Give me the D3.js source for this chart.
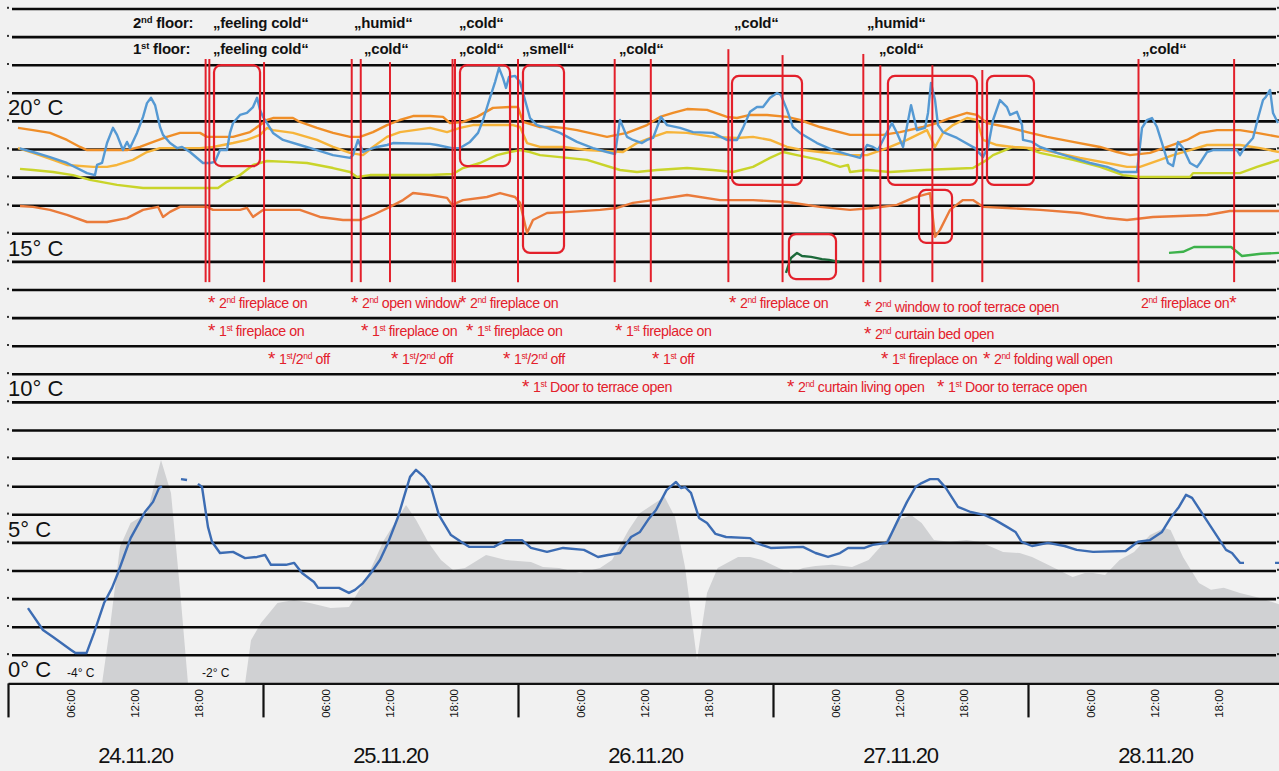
<!DOCTYPE html>
<html><head><meta charset="utf-8">
<script src="https://cdn.jsdelivr.net/npm/d3@7"></script>
<style>
html,body{margin:0;padding:0;background:#f1f1f1;}
svg{display:block;font-family:"Liberation Sans",Arial,sans-serif;}
.ylab{font-size:22px;fill:#111;}
.top{font-size:15px;font-weight:bold;fill:#111;letter-spacing:-0.2px;}
.red{font-size:14.2px;fill:#e3202b;letter-spacing:-0.4px;}
.date{font-size:22px;fill:#111;letter-spacing:-1.2px;}
.hour{font-size:11.5px;fill:#111;}
.small{font-size:12px;fill:#111;}
</style>
</head><body>
<svg id="chart" width="1279" height="771"></svg>
<script>
// ---------------- DATA ----------------
// time in hours since 24.11.20 00:00, temperature in °C (chart scale)
const dayLabels = ["24.11.20","25.11.20","26.11.20","27.11.20","28.11.20"];
const hourTicks = [6,12,18];
const tempLabels = [0,5,10,15,20];

const indoorBlue = [[1.1,19.04],[2.35,18.91],[3.95,18.73],[5.55,18.52],[7.44,18.16],[8.19,18.09],[8.38,18.45],[8.85,18.52],[9.32,19.23],[9.88,19.77],[10.26,19.52],[10.82,18.98],[11.2,19.27],[11.48,19.05],[12.14,19.59],[12.42,19.87],[12.71,20.16],[13.08,20.65],[13.46,20.84],[13.84,20.58],[14.31,19.8],[14.59,19.52],[15.25,19.23],[15.91,19.05],[16.38,19.09],[17.13,18.91],[18.35,18.52],[19.01,18.52],[19.48,18.56],[19.95,18.98],[20.61,18.98],[20.89,19.59],[21.18,19.94],[21.84,20.23],[22.49,20.3],[23.06,20.51],[23.44,20.84],[23.72,20.41],[24.0,20.16],[24.38,19.94],[24.94,19.59],[25.88,19.34],[27.48,19.16],[29.08,18.98],[30.59,18.8],[32.19,18.7],[32.47,18.8],[32.94,19.34],[33.41,18.91],[33.79,18.98],[34.73,19.09],[35.67,19.16],[36.24,19.23],[39.72,19.2],[40.38,19.16],[41.79,19.05],[42.54,19.05],[43.48,19.27],[44.24,19.59],[44.71,20.05],[45.36,20.84],[45.84,21.4],[46.21,21.9],[46.59,21.54],[46.87,21.19],[47.15,21.58],[47.72,21.62],[48.19,21.4],[48.66,20.76],[49.13,20.12],[49.79,19.87],[50.73,19.77],[51.95,19.59],[53.55,19.27],[55.06,19.05],[56.38,18.91],[57.13,18.84],[57.6,20.05],[58.26,19.45],[58.82,19.34],[59.67,19.23],[60.14,19.34],[60.71,19.41],[61.46,20.16],[62.02,19.87],[63.25,19.77],[64.47,19.62],[66.35,19.59],[67.67,19.34],[68.61,19.34],[69.18,19.77],[69.84,20.34],[70.49,20.51],[71.06,20.51],[71.72,20.84],[72.38,21.01],[72.75,20.94],[73.32,20.41],[73.88,19.8],[74.54,19.59],[76.14,19.23],[77.65,18.98],[79.25,18.8],[80.19,18.7],[80.85,19.16],[81.41,19.09],[81.88,18.98],[82.73,19.62],[83.2,19.94],[83.67,19.59],[84.24,19.09],[84.99,20.58],[85.55,19.69],[86.31,19.77],[86.59,20.3],[86.87,21.37],[87.25,20.76],[87.53,19.87],[88.0,19.62],[89.32,19.41],[91.01,19.05],[91.76,18.73],[92.24,19.09],[92.71,20.05],[93.36,20.76],[94.02,20.51],[94.31,20.23],[94.96,20.34],[95.44,19.87],[95.53,19.34],[96.38,19.27],[97.13,19.09],[98.73,18.88],[100.24,18.7],[101.84,18.52],[103.44,18.38],[104.66,18.2],[106.26,18.2],[106.73,19.77],[107.2,20.05],[107.67,20.12],[108.14,19.8],[108.61,19.23],[109.18,18.52],[109.65,18.41],[110.12,19.27],[110.59,19.05],[111.25,18.52],[111.91,18.38],[112.19,18.52],[112.85,18.91],[113.41,18.98],[114.35,18.98],[115.67,18.98],[115.95,18.8],[116.42,19.09],[117.18,19.41],[117.65,20.12],[118.12,20.76],[118.4,20.88],[118.78,21.12],[119.06,20.3],[119.53,19.94]];

const orangeHigh = [[0.94,19.77],[2.35,19.69],[3.95,19.59],[5.55,19.34],[6.78,19.09],[7.44,18.98],[11.2,18.98],[12.42,19.09],[13.36,19.23],[14.96,19.45],[16.19,19.59],[18.07,19.59],[18.73,19.45],[21.18,19.45],[22.78,19.62],[23.72,19.87],[24.38,20.05],[24.94,20.12],[26.82,20.12],[27.48,19.98],[29.08,19.77],[30.59,19.59],[32.19,19.45],[33.13,19.45],[34.35,19.62],[35.67,19.87],[36.89,20.05],[38.12,20.19],[39.72,20.19],[40.94,20.16],[41.6,19.94],[42.82,19.98],[44.14,20.16],[45.65,20.48],[47.25,20.51],[48.0,20.51],[48.47,19.98],[50.07,19.8],[51.3,19.8],[52.24,19.77],[53.55,19.69],[56.38,19.45],[58.26,19.59],[60.14,19.87],[61.36,20.16],[62.59,20.3],[63.91,20.44],[65.79,20.41],[67.67,20.16],[68.61,20.12],[69.84,20.23],[71.44,20.23],[73.32,20.16],[74.54,20.05],[76.42,19.8],[79.25,19.52],[81.41,19.52],[82.35,19.52],[83.95,19.62],[86.12,19.8],[87.44,19.94],[88.66,20.12],[90.26,20.3],[91.2,20.23],[92.14,19.94],[94.02,19.8],[95.91,19.62],[97.79,19.45],[100.24,19.27],[102.78,19.09],[104.38,18.91],[105.6,18.8],[107.48,18.88],[109.08,19.09],[110.96,19.34],[112.19,19.59],[113.79,19.69],[115.95,19.69],[117.55,19.59],[119.62,19.45]];

const orangeLight = [[0.94,19.05],[2.35,18.88],[4.24,18.63],[5.55,18.45],[8.0,18.38],[9.32,18.38],[10.26,18.45],[11.76,18.63],[13.08,18.91],[14.31,19.05],[15.53,19.05],[18.07,19.05],[19.29,19.09],[21.18,19.23],[22.49,19.34],[23.72,19.52],[24.38,19.77],[24.94,19.69],[26.82,19.59],[29.08,19.34],[30.59,19.09],[32.19,18.88],[33.41,18.8],[34.35,19.09],[35.67,19.45],[36.89,19.62],[39.72,19.77],[41.32,19.62],[42.54,19.77],[43.76,19.87],[47.53,19.87],[48.19,19.8],[48.85,19.23],[50.07,19.09],[52.24,19.09],[54.49,18.98],[57.88,18.91],[59.2,19.23],[60.71,19.45],[62.02,19.62],[63.91,19.59],[66.35,19.45],[68.61,19.41],[70.12,19.45],[71.72,19.34],[73.32,19.09],[74.82,18.98],[76.42,18.91],[79.25,18.8],[80.85,18.8],[82.73,19.05],[84.61,19.34],[86.49,19.69],[87.25,19.09],[88.0,19.59],[88.94,19.87],[90.26,20.12],[91.2,20.05],[91.76,19.34],[93.08,19.16],[94.59,19.09],[96.47,19.05],[98.73,18.88],[100.89,18.7],[103.44,18.52],[105.32,18.38],[106.54,18.38],[108.42,18.63],[109.65,18.8],[111.25,18.98],[112.85,19.16],[115.95,19.16],[117.84,19.05],[119.62,18.91]];

const yellowGreen = [[1.13,18.31],[2.35,18.27],[4.24,18.2],[6.12,18.09],[7.72,17.92],[10.26,17.74],[12.71,17.63],[18.07,17.63],[19.76,17.63],[20.61,17.85],[21.84,18.09],[23.06,18.45],[24.38,18.59],[26.26,18.56],[28.14,18.52],[30.59,18.34],[32.19,18.2],[32.85,18.02],[34.07,18.09],[39.72,18.09],[41.88,18.13],[42.82,18.34],[44.42,18.52],[46.02,18.8],[47.25,18.91],[48.19,18.98],[49.13,18.91],[50.07,18.8],[51.95,18.73],[54.49,18.63],[57.6,18.27],[59.2,18.2],[61.08,18.27],[63.91,18.34],[66.35,18.27],[68.24,18.2],[70.12,18.38],[71.72,18.7],[72.94,18.91],[74.26,18.8],[76.42,18.63],[78.31,18.38],[79.06,18.45],[79.25,18.2],[80.85,18.27],[83.01,18.2],[86.12,18.27],[90.82,18.34],[92.14,18.63],[92.71,18.8],[94.59,19.09],[95.91,19.05],[97.13,18.88],[100.24,18.63],[102.78,18.38],[104.94,18.09],[106.54,18.02],[111.25,18.02],[111.53,18.16],[115.95,18.16],[117.55,18.38],[119.62,18.63]];

const orangeLow = [[1.13,16.99],[2.35,16.96],[3.95,16.85],[5.55,16.67],[7.44,16.42],[9.32,16.42],[11.2,16.56],[12.71,16.85],[14.12,16.96],[14.59,16.6],[15.25,16.78],[16.19,16.96],[18.73,16.96],[19.29,16.85],[21.84,16.85],[22.49,16.92],[23.06,16.6],[24.0,16.85],[27.48,16.85],[29.36,16.6],[31.53,16.49],[33.13,16.49],[34.35,16.67],[35.95,16.96],[37.18,17.2],[38.12,17.45],[39.72,17.38],[41.32,17.28],[41.79,17.03],[42.82,17.2],[45.08,17.31],[46.31,17.45],[47.72,17.31],[48.19,17.1],[48.85,16.03],[49.41,16.49],[50.73,16.74],[52.89,16.78],[55.72,16.85],[57.32,16.92],[58.82,17.1],[60.71,17.2],[63.91,17.38],[67.01,17.2],[70.12,17.2],[73.32,17.13],[76.42,16.96],[79.25,16.85],[81.41,16.92],[83.67,17.03],[85.18,17.28],[86.78,17.45],[87.25,15.89],[87.72,16.14],[88.66,16.85],[89.88,17.2],[90.82,17.2],[91.76,16.96],[94.02,16.92],[97.13,16.85],[100.89,16.74],[103.44,16.56],[105.32,16.49],[107.76,16.6],[112.85,16.67],[115.01,16.81],[119.62,16.81]];

const darkGreen = [[73.22,14.61],[73.69,15.14],[74.26,15.32],[74.73,15.21],[75.58,15.18],[76.61,15.1],[77.27,15.07],[78.26,15.0]];
const green = [[109.27,15.32],[110.59,15.36],[111.62,15.53],[115.11,15.53],[116.14,15.21],[117.93,15.29],[119.62,15.32]];

// outdoor (lower panel), null = gap in record
const outdoor = [[1.88,2.68],[3.29,1.9],[4.24,1.65],[5.93,1.19],[6.35,1.08],[7.39,1.08],[8.09,1.79],[9.04,2.86],[9.79,3.4],[10.35,3.93],[10.96,4.57],[11.54,5.17],[12.33,5.71],[12.89,6.1],[13.65,6.46],[14.21,6.95],[14.49,7.02],null,[16.28,7.27],[16.85,7.24],null,[17.88,7.1],[18.26,6.99],[18.82,5.57],[19.2,5.04],[19.95,4.64],[21.18,4.68],[22.31,4.46],[23.44,4.5],[24.19,4.57],[24.75,4.22],[26.16,4.22],[26.92,4.29],[27.67,3.93],[28.8,3.61],[29.18,3.4],[31.15,3.4],[32.09,3.22],[32.66,3.33],[33.41,3.57],[34.16,3.93],[35.01,4.39],[35.76,5.0],[36.71,5.92],[37.27,6.64],[37.84,7.35],[38.4,7.6],[39.15,7.35],[39.81,6.99],[40.56,5.99],[41.69,5.28],[42.64,5.04],[43.39,4.86],[45.74,4.86],[46.87,5.1],[48.38,5.1],[49.22,4.82],[50.73,4.68],[52.24,4.82],[54.21,4.75],[55.53,4.5],[56.47,4.57],[57.6,4.64],[58.64,5.21],[59.48,5.39],[60.24,5.82],[60.99,6.17],[61.98,6.88],[62.87,7.17],[63.34,6.95],[63.72,6.99],[64.28,6.78],[65.04,5.89],[65.79,5.71],[66.59,5.32],[67.58,5.21],[69.84,5.17],[70.4,5.0],[71.78,4.82],[74.82,4.86],[76.0,4.64],[77.18,4.5],[78.31,4.64],[79.06,4.82],[80.61,4.82],[81.38,4.93],[82.73,5.0],[83.67,5.74],[84.61,6.46],[85.41,6.99],[85.99,7.13],[86.78,7.27],[87.53,7.27],[88.28,6.95],[89.41,6.28],[90.6,6.1],[91.95,5.99],[92.89,5.82],[94.02,5.57],[94.82,5.39],[95.4,5.04],[96.38,4.89],[97.88,5.0],[99.44,4.89],[100.58,4.75],[102.12,4.68],[105.19,4.71],[106.35,5.04],[107.48,5.1],[108.61,5.39],[109.42,5.89],[110.21,6.28],[110.87,6.71],[111.44,6.6],[113.22,5.57],[114.64,4.75],[115.2,4.64],[115.95,4.29],[116.33,4.29],null,[119.25,4.29],[119.72,4.29]];

const outdoorArea = [[8.85,0],[9.6,2.01],[10.54,4.86],[11.54,5.71],[13.08,6.06],[14.4,7.95],[15.34,6.78],[16.19,3.33],[16.94,0],[22.31,0],[22.87,1.54],[23.81,2.15],[25.36,2.86],[26.92,2.97],[28.42,2.86],[30.36,2.68],[32.09,2.72],[32.66,3.07],[33.79,3.79],[35.39,5.1],[37.46,6.35],[38.4,5.82],[39.59,5.0],[40.75,4.39],[41.88,4.04],[43.01,4.11],[44.99,4.57],[46.87,4.39],[49.22,4.32],[50.35,4.14],[51.86,4.11],[53.84,3.93],[55.72,4.11],[56.85,4.39],[58.41,5.46],[59.48,6.06],[60.61,6.35],[61.79,6.64],[62.78,5.92],[63.72,4.14],[64.85,0.83],[65.79,3.22],[66.79,4.11],[68.71,4.5],[69.84,4.5],[70.96,4.39],[72.56,4.11],[73.69,3.93],[74.82,4.11],[76.0,4.18],[77.55,4.22],[79.44,4.14],[81.0,4.39],[82.54,5.04],[83.86,5.82],[84.99,5.99],[85.99,5.71],[87.15,5.1],[88.66,5.04],[90.21,5.1],[91.39,5.04],[92.52,4.86],[93.65,4.68],[95.21,4.64],[96.38,4.5],[97.88,4.22],[99.44,3.93],[100.2,3.79],[101.36,3.93],[102.12,3.93],[103.25,3.86],[104.62,4.39],[105.98,4.68],[107.48,5.28],[108.85,5.53],[109.42,5.46],[110.59,4.5],[112.09,3.57],[113.22,3.33],[114.42,3.4],[115.95,3.22],[117.84,3.04],[119.72,2.8]];

// events (hour, upper end in °C)
const eventHours = [18.6,18.95,24.1,32.35,33.2,35.95,41.84,42.07,48.0,57.1,60.5,67.8,72.9,80.5,82.1,87.0,91.7,106.4,115.4];
const eventTopC  = [22.22,22.22,22.11,22.22,22.22,22.11,22.22,22.22,22.22,22.22,22.22,22.57,22.36,22.4,22.0,22.0,21.83,22.22,22.22];
const eventBottomC = 14.28;

// highlight boxes: [h0, h1, tTop, tBottom]
const boxes = [[19.39,23.72,22.0,18.41],[42.54,47.25,22.0,18.41],[48.47,52.33,22.0,15.32],[68.14,74.73,21.62,17.74],[73.5,77.93,15.99,14.39],[82.82,91.2,21.62,17.74],[92.14,96.56,21.62,17.74],[85.74,88.85,17.56,15.68]];

// perception labels: [hour, row, text]
const feelLabels = [[11.76,0,"2{nd} floor:"],[19.29,0,"„feeling cold“"],[32.56,0,"„humid“"],[42.45,0,"„cold“"],[68.33,0,"„cold“"],[80.85,0,"„humid“"],
  [11.76,1,"1{st} floor:"],[19.29,1,"„feeling cold“"],[33.5,1,"„cold“"],[42.45,1,"„cold“"],[48.38,1,"„smell“"],[57.5,1,"„cold“"],[81.98,1,"„cold“"],[106.73,1,"„cold“"]];

// action labels: [hour, row, text]
const actionLabels = [[18.82,0,"* 2{nd} fireplace on"],[32.28,0,"* 2{nd} open window"],[42.45,0,"* 2{nd} fireplace on"],[67.86,0,"* 2{nd} fireplace on"],[80.56,0.15,"* 2{nd} window to roof terrace open"],[106.64,0,"2{nd} fireplace on*"],
  [18.82,1,"* 1{st} fireplace on"],[33.22,1,"* 1{st} fireplace on"],[43.11,1,"* 1{st} fireplace on"],[57.13,1,"* 1{st} fireplace on"],[80.56,1.1,"* 2{nd} curtain bed open"],
  [24.47,2,"* 1{st}/2{nd} off"],[36.05,2,"* 1{st}/2{nd} off"],[46.59,2,"* 1{st}/2{nd} off"],[60.61,2,"* 1{st} off"],[82.16,2,"* 1{st} fireplace on"],[91.76,2,"* 2{nd} folding wall open"],
  [48.38,3,"* 1{st} Door to terrace open"],[73.32,3,"* 2{nd} curtain living open"],[87.44,3,"* 1{st} Door to terrace open"]];

// outdoor minimum labels: [hour, text]
const minLabels = [[5.55,"-4° C"],[18.26,"-2° C"]];

// ---------------- CHART ----------------
const W = 1279, H = 771;
const DAY0 = new Date(2020, 10, 24, 0, 0, 0);
const hr = h => new Date(DAY0.getTime() + h * 3600000);
const x = d3.scaleTime().domain([hr(0), hr(120)]).range([8, 1283]);
const y = d3.scaleLinear().domain([0, 24]).range([683.4, 9]);
const svg = d3.select("#chart");
svg.append("rect").attr("width", W).attr("height", H).attr("fill", "#f1f1f1");

// area
svg.append("path").datum(outdoorArea)
  .attr("fill", "#d0d1d3")
  .attr("d", d3.area().x(d => x(hr(d[0]))).y0(y(0)).y1(d => y(d[1])));

// grid
const gridT = d3.range(1, 25);
const grid = svg.append("g");
grid.selectAll("line").data(gridT).join("line")
  .attr("x1", 12).attr("x2", 1276).attr("y1", d => y(d)).attr("y2", d => y(d))
  .attr("stroke", "#0a0a0a").attr("stroke-width", 2.6);
grid.selectAll("rect.l").data(gridT).join("rect").attr("class","l")
  .attr("x", 7).attr("y", d => y(d) - 2.2).attr("width", 2).attr("height", 2).attr("fill", "#333");
grid.selectAll("rect.r").data(gridT).join("rect").attr("class","r")
  .attr("x", 1277).attr("y", d => y(d) - 2.2).attr("width", 2).attr("height", 2).attr("fill", "#333");

// lines
const line = d3.line().defined(d => d).x(d => x(hr(d[0]))).y(d => y(d[1]));
const series = [
  [yellowGreen, "#c9d42a"], [orangeLow, "#ea7b3b"], [orangeLight, "#f6b43a"],
  [orangeHigh, "#ef8e28"], [indoorBlue, "#5599d3"], [darkGreen, "#1c6a3a"], [green, "#3db24b"],
  [outdoor, "#3c6cb3"]
];
series.forEach(([d, c]) => {
  svg.append("path").datum(d).attr("fill", "none").attr("stroke", c)
    .attr("stroke-width", 2.4).attr("stroke-linejoin", "round").attr("d", line);
});

// event lines
svg.append("g").selectAll("line").data(eventHours).join("line")
  .attr("x1", d => x(hr(d))).attr("x2", d => x(hr(d)))
  .attr("y1", (d, i) => y(eventTopC[i])).attr("y2", y(eventBottomC))
  .attr("stroke", "#e3202b").attr("stroke-width", 2);

// boxes
svg.append("g").selectAll("rect").data(boxes).join("rect")
  .attr("x", d => x(hr(d[0]))).attr("width", d => x(hr(d[1])) - x(hr(d[0])))
  .attr("y", d => y(d[2])).attr("height", d => y(d[3]) - y(d[2]))
  .attr("rx", 7).attr("fill", "none").attr("stroke", "#e3202b").attr("stroke-width", 2.2);

// rich text helper: {..} = superscript, * = asterisk (followed by a narrow gap)
function rich(sel, str, supSize, supDy, starSize) {
  const parts = str.split(/(\{[^}]*\}|\*)/).filter(s => s.length);
  let cur = 0, afterStar = false;
  parts.forEach(p => {
    let txt = p, target = 0, size = null, dx = null;
    if (p.startsWith("{")) { txt = p.slice(1, -1); target = supDy; size = supSize; }
    else if (p === "*") { size = starSize; target = 1; }
    else if (afterStar && p.startsWith(" ")) { txt = p.slice(1); dx = 4; }
    const ts = sel.append("tspan").attr("dy", target - cur).text(txt);
    if (size) ts.attr("font-size", size);
    if (dx !== null) ts.attr("dx", dx);
    afterStar = (p === "*");
    cur = target;
  });
}

// y labels
svg.append("g").selectAll("text").data(tempLabels).join("text")
  .attr("class", "ylab").attr("x", 8).attr("y", d => y(d) - 6).text(d => d + "° C");

// feeling labels
const feelRowY = [28, 54];
feelLabels.forEach(([h, r, t]) => {
  const el = svg.append("text").attr("class", "top").attr("x", x(hr(h))).attr("y", feelRowY[r]);
  rich(el, t, 9.5, -5, 15);
});

// action labels
actionLabels.forEach(([h, r, t]) => {
  const el = svg.append("text").attr("class", "red").attr("x", x(hr(h))).attr("y", 308 + r * 28);
  rich(el, t, 8.5, -4.8, 19);
});

// min labels
minLabels.forEach(([h, t]) => {
  svg.append("text").attr("class", "small").attr("x", x(hr(h))).attr("y", 677).text(t);
});

// x axis: day boundaries
const dayTicks = d3.range(0, 6).map(d => hr(d * 24));
const ax = svg.append("g").attr("transform", `translate(0,${y(0)})`)
  .call(d3.axisBottom(x).tickValues(dayTicks).tickSize(34).tickSizeOuter(0).tickFormat(""));
ax.select(".domain").attr("stroke", "#111").attr("stroke-width", 2.2);
ax.selectAll(".tick line").attr("stroke", "#111").attr("stroke-width", 2.2);

// hour labels
const hTicks = [];
d3.range(0, 5).forEach(d => hourTicks.forEach(h => hTicks.push(hr(d * 24 + h))));
const ax2 = svg.append("g").attr("transform", `translate(0,${y(0)})`)
  .call(d3.axisBottom(x).tickValues(hTicks).tickSize(0).tickFormat(d3.timeFormat("%H:%M")));
ax2.select(".domain").remove();
ax2.selectAll(".tick text").attr("class", "hour").attr("font-family", null).attr("font-size", null)
  .attr("transform", "rotate(-90)").attr("text-anchor", "middle")
  .attr("x", -20).attr("y", -1).attr("dy", "0.35em");

// date labels
svg.append("g").selectAll("text").data(dayLabels).join("text")
  .attr("class", "date").attr("text-anchor", "middle")
  .attr("x", (d, i) => x(hr(i * 24 + 12))).attr("y", 763).text(d => d);
</script>
</body></html>
